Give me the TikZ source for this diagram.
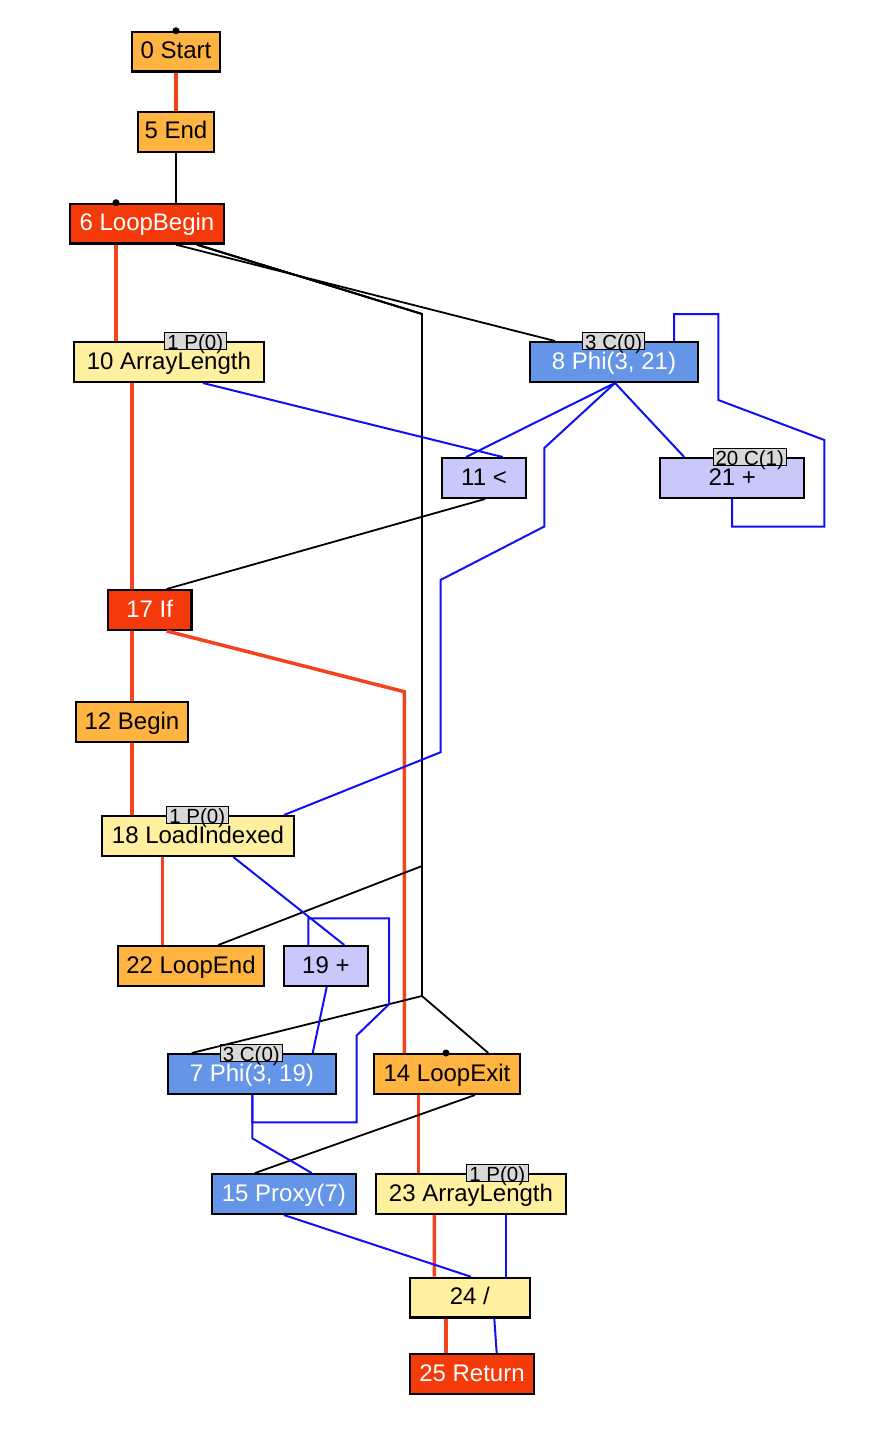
\documentclass[tikz,border=0pt]{standalone}
\usepackage{fontspec}
\setmainfont{Liberation Sans}

\definecolor{blockfill}{HTML}{FFB340}
\definecolor{branchfill}{HTML}{F4390B}
\definecolor{phifill}{HTML}{6495E6}
\definecolor{memfill}{HTML}{FFF0A0}
\definecolor{arithfill}{HTML}{C8C8FA}
\definecolor{tagfill}{HTML}{D8D8D8}
\definecolor{ctlred}{HTML}{F4431C}
\definecolor{useblue}{HTML}{1010F5}

\begin{document}
\begin{tikzpicture}[x=1pt,y=-1pt,
    box/.style={draw,line width=2.4pt,inner sep=0pt,minimum height=39.6pt,
        text height=17pt,text depth=3pt,font=\fontsize{24}{28}\selectfont},
    block/.style={box,fill=blockfill},
    branch/.style={box,fill=branchfill,text=white},
    phi/.style={box,fill=phifill,text=white},
    mem/.style={box,fill=memfill},
    arith/.style={box,fill=arithfill},
    tag/.style={draw,line width=1.1pt,fill=tagfill,inner sep=0pt,minimum width=61.6pt,
        minimum height=16.5pt,text height=17pt,text depth=0pt,font=\fontsize{20.5}{24}\selectfont},
    ctl/.style={ctlred,line width=3.5pt},
    dep/.style={black,line width=1.8pt},
    use/.style={useblue,line width=2pt}]
    \useasboundingbox (0,0) rectangle (896,1434);
    % Nodes
    \node[block,minimum width=88.2pt] (n0) at (176,51.7) {0 Start};
    \node[block,minimum width=76.2pt] (n5) at (176,132) {5 End};
    \node[branch,minimum width=154.2pt] (n6) at (147,223.7) {6 LoopBegin};
    \node[mem,minimum width=189.9pt] (n10) at (168.9,362) {10 ArrayLength};
    \node[phi,minimum width=167.6pt] (n8) at (614,362) {8 Phi(3, 21)};
    \node[arith,minimum width=83.6pt] (n11) at (484,478) {11 <};
    \node[arith,minimum width=143.9pt] (n21) at (732.2,478) {21 +};
    \node[branch,minimum width=83.6pt] (n17) at (149.7,610) {17 If};
    \node[block,minimum width=111.9pt] (n12) at (132,722) {12 Begin};
    \node[mem,minimum width=192.2pt] (n18) at (198,836) {18 LoadIndexed};
    \node[block,minimum width=146.2pt] (n22) at (191,966) {22 LoopEnd};
    \node[arith,minimum width=83.9pt] (n19) at (325.9,966) {19 +};
    \node[phi,minimum width=167.9pt] (n7) at (251.9,1074) {7 Phi(3, 19)};
    \node[block,minimum width=146.2pt] (n14) at (447,1074) {14 LoopExit};
    \node[phi,minimum width=143.9pt] (n15) at (283.9,1194) {15 Proxy(7)};
    \node[mem,minimum width=190.2pt] (n23) at (471,1194) {23 ArrayLength};
    \node[mem,minimum width=119.9pt] (n24) at (469.9,1297.7) {24 /};
    \node[branch,minimum width=124.2pt] (n25) at (472,1374) {25 Return};
    % Labels
    \node[tag] (t10) at ([xshift=26.4pt]n10.north) {1 P(0)};
    \node[tag] (t8) at ([xshift=-0.3pt]n8.north) {3 C(0)};
    \node[tag,minimum width=72.9pt] (t21) at ([xshift=17.5pt]n21.north) {20 C(1)};
    \node[tag] (t18) at ([xshift=-0.7pt]n18.north) {1 P(0)};
    \node[tag] (t7) at ([xshift=-0.6pt]n7.north) {3 C(0)};
    \node[tag] (t23) at ([xshift=26.3pt]n23.north) {1 P(0)};
    % Control flow
    \draw[ctl] (n0.south) -- (n5.north);
    \draw[ctl] ([xshift=-31pt]n6.south) -- ([xshift=-52.9pt]n10.north);
    \draw[ctl] ([xshift=-36.9pt]n10.south) -- ([xshift=-17.7pt]n17.north);
    \draw[ctl] ([xshift=-17.7pt]n17.south) -- (n12.north);
    \draw[ctl] ([xshift=17pt]n17.south) -- (404.3,691.7) -- ([xshift=-42.7pt]n14.north);
    \draw[ctl] (n12.south) -- ([xshift=-66pt]n18.north);
    \draw[ctl] ([xshift=-35.7pt]n18.south) -- ([xshift=-28.7pt]n22.north);
    \draw[ctl] ([xshift=-28.7pt]n14.south) -- ([xshift=-52.7pt]n23.north);
    \draw[ctl] ([xshift=-36.7pt]n23.south) -- ([xshift=-35.6pt]n24.north);
    \draw[ctl] ([xshift=-23.9pt]n24.south) -- ([xshift=-26pt]n25.north);
    % Dependencies
    \coordinate (k1) at (422,314);
    \coordinate (k2) at (422,866);
    \coordinate (k3) at (422,996);
    \draw[dep] (n5.south) -- ([xshift=29pt]n6.north);
    \draw[dep] ([xshift=29pt]n6.south) -- ([xshift=-59pt]n8.north);
    \draw[dep] ([xshift=50pt]n6.south) -- (k1) -- (k2) -- ([xshift=27.3pt]n22.north);
    \draw[dep] ([xshift=50pt]n6.south) -- (k1) -- (k3) -- ([xshift=-60.2pt]n7.north);
    \draw[dep] ([xshift=50pt]n6.south) -- (k1) -- (k3) -- ([xshift=41.3pt]n14.north);
    \draw[dep] ([xshift=1pt]n11.south) -- ([xshift=17pt]n17.north);
    \draw[dep] ([xshift=28pt]n14.south) -- ([xshift=-28.9pt]n15.north);
    % Data inputs
    \draw[use] ([xshift=34pt]n10.south) -- ([xshift=18.7pt]n11.north);
    \draw[use] ([xshift=1pt]n8.south) -- ([xshift=-18pt]n11.north);
    \draw[use] ([xshift=1pt]n8.south) -- ([xshift=-48pt]n21.north);
    \draw[use] ([xshift=1pt]n8.south) -- (544.3,448) -- (544.3,526.5) -- (440.5,580)
        -- (440.5,752.3) -- ([xshift=86pt]n18.north);
    \draw[use] (n21.south) -- (732.2,526.7) -- (824.3,526.7) -- (824.3,440) -- (718.3,400)
        -- (718.3,314) -- (674,314) -- ([xshift=60pt]n8.north);
    \draw[use] ([xshift=35.3pt]n18.south) -- ([xshift=18.4pt]n19.north);
    \draw[use] ([xshift=0.8pt]n19.south) -- ([xshift=60.8pt]n7.north);
    \draw[use] ([xshift=0.4pt]n7.south) -- (252.3,1122.3) -- (356.7,1122.3) -- (356.7,1035.5)
        -- (389,1004.3) -- (389,918.3) -- (308.3,918.3) -- ([xshift=-17.6pt]n19.north);
    \draw[use] ([xshift=0.4pt]n7.south) -- (252.3,1138.3) -- ([xshift=27.8pt]n15.north);
    \draw[use] (n15.south) -- ([xshift=1pt]n24.north);
    \draw[use] ([xshift=35pt]n23.south) -- ([xshift=36.1pt]n24.north);
    \draw[use] ([xshift=24.4pt]n24.south) -- ([xshift=24.7pt]n25.north);
    % Markers
    \fill (n0.north) circle (3.5pt);
    \fill ([xshift=-31pt]n6.north) circle (3.5pt);
    \fill ([xshift=-1pt]n14.north) circle (3.5pt);
\end{tikzpicture}
\end{document}
